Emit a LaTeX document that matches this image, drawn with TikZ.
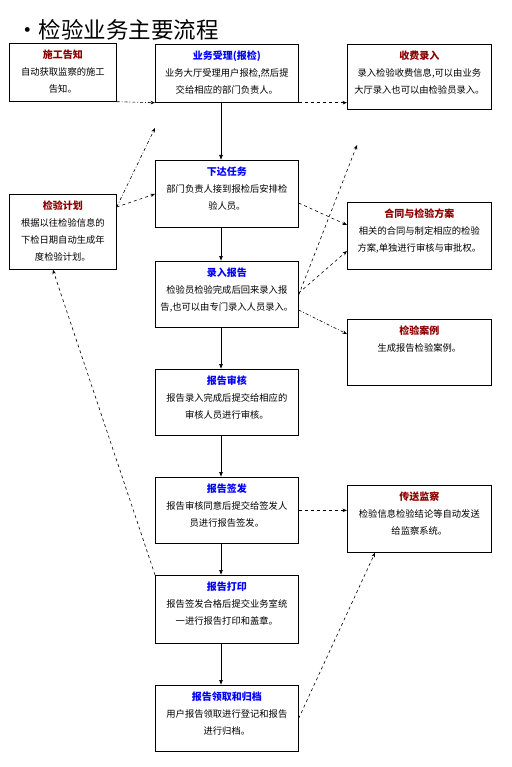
\documentclass[tikz,border=0pt]{standalone}
\usepackage{fontspec}
\setmainfont{Noto Sans CJK SC}
\usetikzlibrary{arrows.meta,positioning,calc}
\definecolor{hdred}{RGB}{139,0,0}
\definecolor{hdblue}{RGB}{0,0,255}
\newcommand{\boxhead}[2]{{\fontsize{10}{17}\selectfont\bfseries\color{#1}#2}}

\begin{document}
\begin{tikzpicture}[x=1pt,y=-1pt,
      box/.style={draw,line width=0.7pt,anchor=north west,inner sep=0pt},
      txt/.style={anchor=north,align=center,inner sep=0pt,
                  font=\fontsize{9.3}{17}\selectfont},
      arrow/.style={-{Latex[length=5pt,width=4pt]},line width=0.7pt},
      dasharrow/.style={-{Stealth[length=4.5pt,width=3.5pt]},dashed,line width=0.6pt},
      dotarrow/.style={-{Stealth[length=4.5pt,width=3.5pt]},line width=0.6pt,
                       dash pattern=on 3pt off 2pt on 0.8pt off 2pt},
    ]
    \fill[white] (0,0) rectangle (511,767);
    \useasboundingbox (0,0) rectangle (511,767);

    % Title
    \node[anchor=west,inner sep=0pt,font=\fontsize{22.5}{22.5}\selectfont] (title) at (16,30) {·检验业务主要流程};

    % Main column
    \node[box,minimum width=143pt,minimum height=58pt] (yw) at (155,44) {};
    \node[box,minimum width=143pt,minimum height=67pt] (xd) at (155,160) {};
    \node[box,minimum width=143pt,minimum height=66pt] (lr) at (155,261) {};
    \node[box,minimum width=143pt,minimum height=66pt] (sh) at (155,369) {};
    \node[box,minimum width=143pt,minimum height=66pt] (qf) at (155,477) {};
    \node[box,minimum width=143pt,minimum height=68pt] (dy) at (155,575) {};
    \node[box,minimum width=143pt,minimum height=66pt] (lq) at (155,685) {};

    % Side boxes
    \node[box,minimum width=107pt,minimum height=58pt] (sg) at (9,43) {};
    \node[box,minimum width=107pt,minimum height=75pt] (jh) at (9,194) {};
    \node[box,minimum width=144pt,minimum height=65pt] (sf) at (347,44) {};
    \node[box,minimum width=144pt,minimum height=67pt] (ht) at (347,202) {};
    \node[box,minimum width=144pt,minimum height=66pt] (al) at (347,319) {};
    \node[box,minimum width=144pt,minimum height=67pt] (cs) at (347,485) {};

    % Box texts
    \node[txt,below=7pt of sg.north] {\boxhead{hdred}{施工告知}\\自动获取监察的施工\\告知。};
    \node[txt,below=7pt of yw.north] {\boxhead{hdblue}{业务受理(报检)}\\业务大厅受理用户报检,然后提\\交给相应的部门负责人。};
    \node[txt,below=7pt of sf.north] {\boxhead{hdred}{收费录入}\\录入检验收费信息,可以由业务\\大厅录入也可以由检验员录入。};
    \node[txt,below=7pt of jh.north] {\boxhead{hdred}{检验计划}\\根据以往检验信息的\\下检日期自动生成年\\度检验计划。};
    \node[txt,below=7pt of xd.north] {\boxhead{hdblue}{下达任务}\\部门负责人接到报检后安排检\\验人员。};
    \node[txt,below=7pt of ht.north] {\boxhead{hdred}{合同与检验方案}\\相关的合同与制定相应的检验\\方案,单独进行审核与审批权。};
    \node[txt,below=7pt of lr.north] {\boxhead{hdblue}{录入报告}\\检验员检验完成后回来录入报\\告,也可以由专门录入人员录入。};
    \node[txt,below=7pt of al.north] {\boxhead{hdred}{检验案例}\\生成报告检验案例。};
    \node[txt,below=7pt of sh.north] {\boxhead{hdblue}{报告审核}\\报告录入完成后提交给相应的\\审核人员进行审核。};
    \node[txt,below=7pt of qf.north] {\boxhead{hdblue}{报告签发}\\报告审核同意后提交给签发人\\员进行报告签发。};
    \node[txt,below=7pt of cs.north] {\boxhead{hdred}{传送监察}\\检验信息检验结论等自动发送\\给监察系统。};
    \node[txt,below=7pt of dy.north] {\boxhead{hdblue}{报告打印}\\报告签发合格后提交业务室统\\一进行报告打印和盖章。};
    \node[txt,below=7pt of lq.north] {\boxhead{hdblue}{报告领取和归档}\\用户报告领取进行登记和报告\\进行归档。};

    % Main flow
    \coordinate (spine) at (221,0);
    \foreach \s/\t in {yw/xd,xd/lr,lr/sh,sh/qf,qf/dy,dy/lq}
      \draw[arrow] (\s.south -| spine) -- (\t.north -| spine);

    % Side connectors
    \coordinate (upleft) at (155,128);
    \coordinate (upright) at (357,145);
    \draw[dotarrow] (sg.south east) -- (yw.south west);
    \draw[dasharrow] (yw.south east) -- (yw.south east -| sf.west);
    \draw[dotarrow] ([yshift=-13pt]jh.north east) -- (upleft);
    \draw[dasharrow] ([yshift=-13pt]jh.north east) -- ([yshift=-34pt]xd.north west);
    \draw[dasharrow] ([yshift=-43pt]xd.north east) -- ([yshift=-23pt]ht.north west);
    \draw[dasharrow] ([yshift=-34pt]lr.north east) -- (upright);
    \draw[dasharrow] ([yshift=-32pt]lr.north east) -- ([yshift=-49pt]ht.north west);
    \draw[dotarrow] ([yshift=-49pt]lr.north east) -- ([yshift=-15pt]al.north west);
    \draw[dasharrow] (qf.east) -- (qf.east -| cs.west);
    \draw[dasharrow] (lq.east) -- ([xshift=28pt]cs.south west);
    \draw[dasharrow] (dy.north west) -- ([xshift=-10pt]jh.south);

  \end{tikzpicture}
\end{document}
